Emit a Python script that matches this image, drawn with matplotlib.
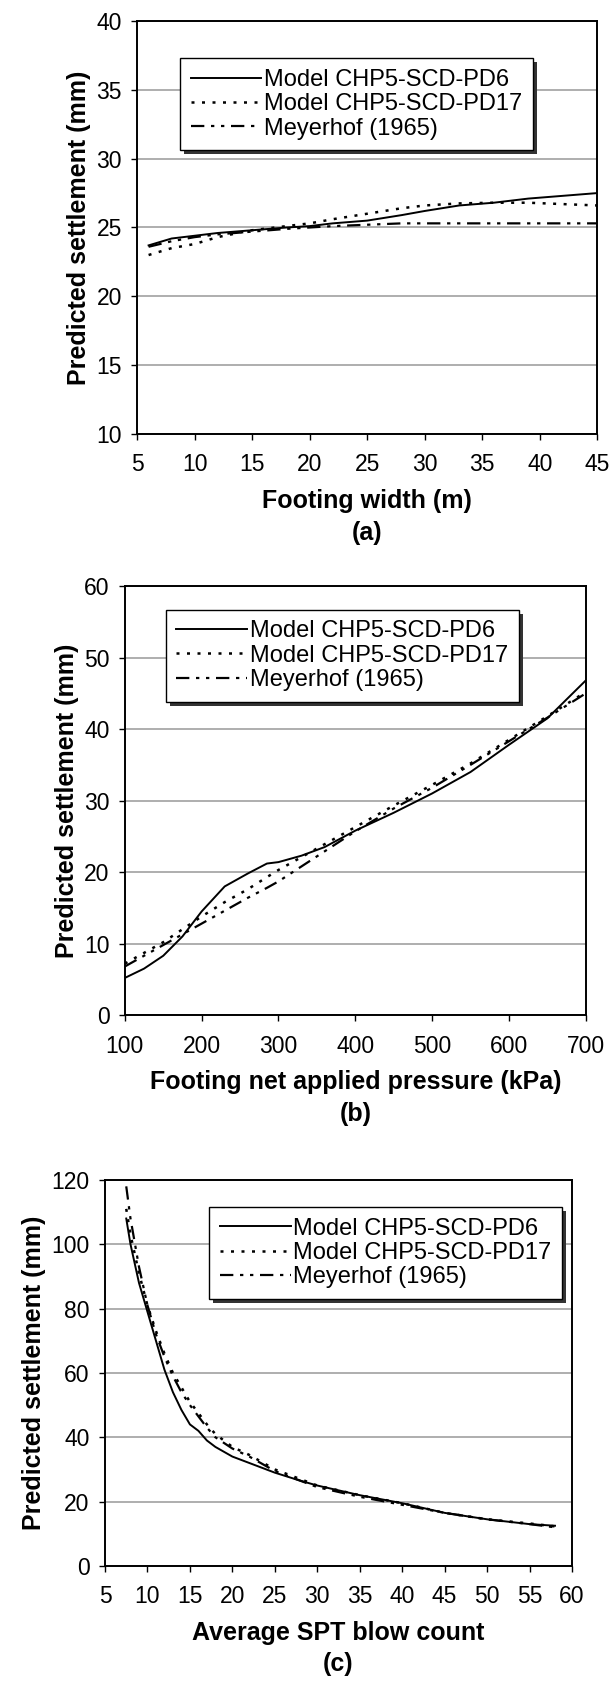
import matplotlib
matplotlib.use('Agg')
import matplotlib.pyplot as plt

plt.rcParams['font.family'] = ['Liberation Sans', 'DejaVu Sans']
plt.rcParams['font.size'] = 16

labels = ['Model CHP5-SCD-PD6', 'Model CHP5-SCD-PD17', 'Meyerhof (1965)']

# (a) footing width
width_m = [6, 8, 10, 12, 15, 18, 20, 22, 25, 28, 30, 33, 36, 39, 42, 45]
a_pd6 = [23.7, 24.2, 24.4, 24.6, 24.8, 25.0, 25.1, 25.3, 25.5, 25.9, 26.2, 26.6, 26.8, 27.1, 27.3, 27.5]
a_pd17 = [23.0, 23.5, 23.8, 24.3, 24.8, 25.1, 25.3, 25.6, 26.0, 26.4, 26.6, 26.75, 26.8, 26.8, 26.7, 26.6]
a_meyer = [23.6, 24.0, 24.3, 24.5, 24.7, 24.9, 25.0, 25.1, 25.2, 25.3, 25.3, 25.3, 25.3, 25.3, 25.3, 25.3]

# (b) net applied pressure
pressure = [100, 125, 150, 175, 200, 230, 260, 285, 300, 330, 360, 400, 450, 500, 550, 600, 650, 700]
b_pd6 = [5.2, 6.5, 8.3, 11.0, 14.5, 18.0, 19.8, 21.2, 21.4, 22.3, 23.5, 25.8, 28.3, 31.0, 34.0, 37.8, 41.5, 46.8]
b_pd17 = [7.2, 8.7, 10.2, 12.0, 13.8, 15.8, 17.6, 19.3, 20.3, 22.1, 23.9, 26.3, 29.3, 32.2, 35.2, 38.5, 41.8, 45.2]
b_meyer = [6.8, 8.3, 9.8, 11.3, 12.8, 14.6, 16.4, 17.8, 18.7, 20.8, 22.9, 25.7, 28.9, 31.8, 35.0, 38.3, 41.6, 45.0]

# (c) SPT blow count
spt = [7.5, 8, 9, 10, 11, 12, 13, 14, 15, 16, 17, 18, 20, 22, 25, 28, 30, 35, 40, 45, 50, 55, 58]
c_pd6 = [108, 100, 88, 79, 70, 61, 54, 48.5, 44, 42, 39, 37, 34, 32, 29, 26.5, 25, 22, 19.5, 16.5, 14.5, 13, 12.5]
c_pd17 = [111, 103, 91, 81, 73, 66, 60, 55.5, 51, 47.5, 44, 41, 37, 34.5, 30, 27, 25, 22, 19.5, 16.5, 14.5, 13.2, 12.3]
c_meyer = [118, 108, 93, 81, 72, 65, 59, 54, 50, 46.5, 43, 40, 36.5, 34, 29.5, 26.5, 24.5, 21.5, 19, 16.5, 14.5, 13, 12]


def draw_panel(rect, x, ys, xlim, xticks, ylim, yticks, xlabel, tag, leg_xy):
    ax = fig.add_axes(rect)
    styles = [dict(ls='-', lw=1.4),
              dict(ls=(0, (1.2, 3.0)), lw=1.8),
              dict(ls=(0, (6, 3, 1.5, 3, 1.5, 3)), lw=1.6)]
    for y, st, lab in zip(ys, styles, labels):
        ax.plot(x, y, color='black', label=lab, **st)
    ax.set_xlim(*xlim)
    ax.set_ylim(*ylim)
    ax.set_xticks(xticks)
    ax.set_yticks(yticks)
    ax.yaxis.grid(True, color='0.6', lw=1.1)
    ax.set_axisbelow(True)
    for s in ax.spines.values():
        s.set_linewidth(1.4)
    ax.tick_params(direction='out', length=4, width=1, labelsize=16.5)
    ax.tick_params(axis='x', pad=10)
    ax.tick_params(axis='y', pad=7)
    ax.set_ylabel('Predicted settlement (mm)', fontweight='bold', fontsize=18, labelpad=4)
    ax.set_xlabel(xlabel + '\n' + tag, fontweight='bold', fontsize=18, labelpad=9, linespacing=1.4)
    ax.legend(loc='upper left', bbox_to_anchor=leg_xy, frameon=True, fancybox=False,
              edgecolor='black', framealpha=1, handlelength=3.0, labelspacing=0.1,
              borderpad=0.45, handletextpad=0.1, borderaxespad=0, fontsize=17,
              shadow={'ox': 3, 'oy': -3, 'facecolor': '0.2', 'edgecolor': 'none', 'alpha': 1})
    ax.get_legend().get_frame().set_linewidth(1.0)
    return ax


fig = plt.figure(figsize=(6.12, 16.82), dpi=100)

draw_panel([0.224, 0.742, 0.752, 0.2455], width_m, [a_pd6, a_pd17, a_meyer],
           (5, 45), range(5, 46, 5), (10, 40), range(10, 41, 5),
           'Footing width (m)', '(a)', (0.093, 0.91))
draw_panel([0.204, 0.3965, 0.753, 0.255], pressure, [b_pd6, b_pd17, b_meyer],
           (100, 700), range(100, 701, 100), (0, 60), range(0, 61, 10),
           'Footing net applied pressure (kPa)', '(b)', (0.089, 0.945))
draw_panel([0.1716, 0.069, 0.763, 0.2295], spt, [c_pd6, c_pd17, c_meyer],
           (5, 60), range(5, 61, 5), (0, 120), range(0, 121, 20),
           'Average SPT blow count', '(c)', (0.223, 0.93))

fig.savefig('out.png', dpi=100)
